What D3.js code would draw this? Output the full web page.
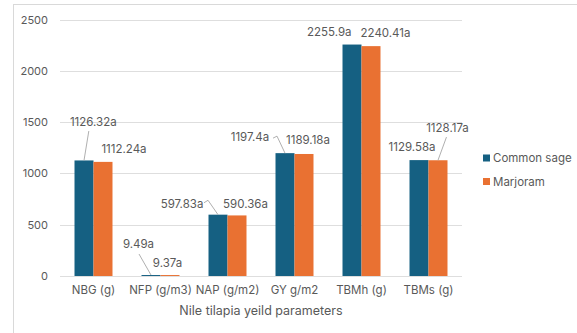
<!DOCTYPE html>
<html>
<head>
<meta charset="utf-8">
<script src="https://cdn.jsdelivr.net/npm/d3@7"></script>
<style>
  html, body { margin: 0; padding: 0; background: #fff; }
  svg { display: block; }
  text { font-family: Inter, "Open Sans", sans-serif; fill: #595959; }
</style>
</head>
<body>
<svg id="chart" width="577" height="333"></svg>
<script>
// Nile tilapia yield parameters for two herbal feed additives
const categories = ["NBG (g)", "NFP (g/m3)", "NAP (g/m2)", "GY g/m2", "TBMh (g)", "TBMs (g)"];
const seriesNames = ["Common sage", "Marjoram"];
const commonSage = [1126.32, 9.49, 597.83, 1197.4, 2255.9, 1129.58];
const marjoram = [1112.24, 9.37, 590.36, 1189.18, 2240.41, 1128.17];
const significance = ["a", "a", "a", "a", "a", "a"];
const yTicks = [0, 500, 1000, 1500, 2000, 2500];
const xTitle = "Nile tilapia yeild parameters";

// label placement relative to the top centre of each bar: [dx, dy]
const labelOffsets = [
  [[9.3, -38.4], [21, -12.8]],
  [[-12.5, -31], [-2.5, -11.7]],
  [[-36, -10.9], [8.5, -11.7]],
  [[-35, -16], [4, -13.9]],
  [[-22.7, -12.5], [14.5, -13]],
  [[-7, -12.7], [9.5, -32.2]]
];
// leader line bends, relative to the label centre; the line ends at the bar top
const leaders = [
  [[[-4.5, 9]], null],
  [[[0.5, 10]], null],
  [[[22, -1], [26, -3.5]], null],
  [[[23, 1], [27, -1]], null],
  [null, null],
  [null, [[-1, 9]]]
];

const colors = ["#156082", "#E97132"];
const values = [commonSage, marjoram];

const svg = d3.select("#chart");
const plot = { left: 60, right: 462, top: 19.5, bottom: 276 };

// outer chart frame
svg.append("rect")
  .attr("x", 13.5).attr("y", 4.5)
  .attr("width", 620).attr("height", 400)
  .attr("fill", "none").attr("stroke", "#d9d9d9");

const y = d3.scaleLinear().domain([0, 2500]).range([plot.bottom, plot.top]);
const x0 = d3.scaleBand().domain(categories).range([plot.left, plot.right])
  .paddingInner(0.433).paddingOuter(0.2165);
const x1 = d3.scaleBand().domain(seriesNames).range([0, x0.bandwidth()]);

// horizontal gridlines
svg.append("g").selectAll("line").data(yTicks).join("line")
  .attr("x1", plot.left).attr("x2", plot.right)
  .attr("y1", d => Math.round(y(d)) + 0.5).attr("y2", d => Math.round(y(d)) + 0.5)
  .attr("stroke", "#dedede").attr("stroke-width", 1);

// y axis tick labels
const yAxis = d3.axisLeft(y).tickValues(yTicks).tickFormat(d3.format("d")).tickSize(0).tickPadding(0);
const gy = svg.append("g").attr("transform", `translate(${plot.left - 12},0)`).call(yAxis);
gy.select(".domain").remove();
gy.selectAll("text").attr("font-size", 11).attr("fill", "#595959")
  .style("font-family", "Inter, 'Open Sans', sans-serif");

// x axis category labels
const xAxis = d3.axisBottom(x0).tickSize(0).tickPadding(0);
const gx = svg.append("g").attr("transform", `translate(0,${plot.bottom + 10})`).call(xAxis);
gx.select(".domain").remove();
gx.selectAll("text").attr("font-size", 11.5).attr("fill", "#595959")
  .style("font-family", "Inter, 'Open Sans', sans-serif");

// axis title
svg.append("text")
  .attr("x", (plot.left + plot.right) / 2).attr("y", 315)
  .attr("text-anchor", "middle").attr("font-size", 12.5)
  .text(xTitle);

// bars
const groups = svg.append("g").selectAll("g").data(categories).join("g")
  .attr("transform", d => `translate(${x0(d)},0)`);

groups.selectAll("rect")
  .data((c, i) => seriesNames.map((s, k) => ({ s, k, v: values[k][i] })))
  .join("rect")
  .attr("x", d => x1(d.s))
  .attr("width", x1.bandwidth())
  .attr("y", d => y(d.v))
  .attr("height", d => y(0) - y(d.v))
  .attr("fill", d => colors[d.k]);

// data labels with leader lines
const labelLayer = svg.append("g");
categories.forEach((c, i) => {
  seriesNames.forEach((s, k) => {
    const v = values[k][i];
    const bx = x0(c) + x1(s) + x1.bandwidth() / 2;
    const by = y(v);
    const [dx, dy] = labelOffsets[i][k];
    const lx = bx + dx, ly = by + dy;
    const bends = leaders[i][k];
    if (bends) {
      const pts = bends.map(([px, py]) => [lx + px, ly + py]);
      pts.push([bx, by]);
      labelLayer.append("path")
        .attr("d", d3.line()(pts))
        .attr("fill", "none").attr("stroke", "#a6a6a6").attr("stroke-width", 0.9);
    }
    labelLayer.append("text")
      .attr("x", lx).attr("y", ly)
      .attr("text-anchor", "middle").attr("dominant-baseline", "central")
      .attr("font-size", 11.5)
      .text(v + significance[i]);
  });
});

// legend
const legend = svg.append("g").selectAll("g").data(seriesNames).join("g")
  .attr("transform", (d, k) => `translate(483,${158 + k * 23.5})`);
legend.append("rect").attr("x", 0).attr("y", -3.5).attr("width", 7).attr("height", 7)
  .attr("fill", (d, k) => colors[k]);
legend.append("text").attr("x", 10).attr("y", 0)
  .attr("dominant-baseline", "central").attr("font-size", 11.5)
  .text(d => d);
</script>
</body>
</html>
